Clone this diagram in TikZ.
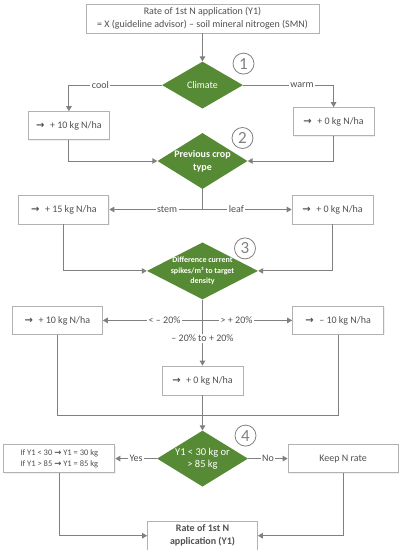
\documentclass[tikz,border=0pt]{standalone}
\usepackage{fontspec}
\setmainfont{Carlito}
\newfontfamily\arrowfont{DejaVu Sans}
\usetikzlibrary{arrows.meta,positioning,shapes.geometric,shadows}

\definecolor{leafgreen}{RGB}{87,138,52}
\definecolor{linegray}{RGB}{128,128,128}
\definecolor{boxgray}{RGB}{178,178,178}
\definecolor{textgray}{RGB}{80,80,80}

\newcommand{\adds}{{\arrowfont\bfseries →}\hspace{0.55em}}

\begin{document}
\begin{tikzpicture}[
      font=\fontsize{10}{13}\selectfont,
      text=textgray,
      box/.style={draw=boxgray, line width=0.8pt, fill=white, align=center, minimum height=28pt, inner sep=2pt,
        drop shadow={opacity=0.12, shadow xshift=1pt, shadow yshift=-1pt}},
      decision/.style={diamond, fill=leafgreen, inner sep=0pt},
      dtext/.style={text=white, align=center, font=\fontsize{10}{13}\selectfont},
      stepnum/.style={circle, draw=linegray, line width=0.8pt, minimum size=21pt, inner sep=0pt, text=linegray, font=\fontsize{17}{17}\selectfont},
      lbl/.style={fill=white, inner sep=1.5pt, text=textgray},
      arrow/.style={-{Triangle[width=5.5pt,length=5pt]}, draw=linegray, line width=1pt},
      link/.style={draw=linegray, line width=1pt}
    ]
      \useasboundingbox (-202.5pt,18.5pt) rectangle (199.5pt,-531.5pt);

      \node[box, minimum width=233pt, minimum height=29pt] (rate) at (0,0) {Rate of 1st N application (Y1)\\= X (guideline advisor) – soil mineral nitrogen (SMN)};
      \node[decision, minimum width=81pt, minimum height=47pt, below=28pt of rate, label={[dtext]center:Climate}] (climate) {};
      \node[box, minimum width=81pt, left=52pt of climate, yshift=-40.5pt] (cool) {\adds + 10 kg N/ha};
      \node[box, minimum width=81pt, right=49.5pt of climate, yshift=-36.5pt] (warm) {\adds + 0 kg N/ha};
      \node[decision, minimum width=90pt, minimum height=56pt, below=24pt of climate,
        label={[dtext, font=\fontsize{10}{13}\selectfont\bfseries]center:{Previous crop\\type}}] (crop) {};
      \node[box, minimum width=90pt, minimum height=29pt, left=48pt of crop, yshift=-48.5pt] (stem) {\adds + 15 kg N/ha};
      \node[box, minimum width=81pt, minimum height=29pt, right=44pt of crop, yshift=-48.5pt] (leaf) {\adds + 0 kg N/ha};
      \node[decision, minimum width=111pt, minimum height=57pt, below=53pt of crop,
        label={[dtext, font=\fontsize{8}{10.5}\selectfont\bfseries]center:{Difference current\\spikes/m² to target\\density}}] (density) {};
      \node[box, minimum width=90pt, left=44pt of density, yshift=-49.5pt] (low) {\adds + 10 kg N/ha};
      \node[box, minimum width=91pt, right=34pt of density, yshift=-49.5pt] (high) {\adds – 10 kg N/ha};
      \node[box, minimum width=81pt, minimum height=29pt, below=66pt of density] (same) {\adds + 0 kg N/ha};
      \node[decision, minimum width=91pt, minimum height=56pt, below=35pt of same,
        label={[dtext, font=\fontsize{10.5}{11.5}\selectfont]center:{Y1 < 30 kg or\\> 85 kg}}] (limit) {};
      \node[box, minimum width=111pt, left=41.5pt of limit, font=\fontsize{8.5}{10.5}\selectfont] (yes) {If Y1 < 30 {\arrowfont\bfseries →} Y1 = 30 kg\\If Y1 > 85 {\arrowfont\bfseries →} Y1 = 85 kg};
      \node[box, minimum width=110pt, right=39.5pt of limit] (keep) {Keep N rate};
      \node[box, minimum width=110pt, minimum height=29pt, below=34pt of limit, font=\fontsize{10}{13}\selectfont\bfseries] (final) {Rate of 1st N\\application (Y1)};

      % step numbers
      \node[stepnum] (n1) at ([shift={(41pt,21.5pt)}]climate.center) {1};
      \node[stepnum] (n2) at ([shift={(40pt,23pt)}]crop.center) {2};
      \node[stepnum] (n3) at ([shift={(42.5pt,22.5pt)}]density.center) {3};
      \node[stepnum] (n4) at ([shift={(43pt,23pt)}]limit.center) {4};

      \draw[arrow] (rate) -- (climate);
      \draw[arrow] (climate.west) -| node[lbl, pos=0.33]{cool} (cool.north);
      \draw[arrow] (climate.east) -| node[lbl, pos=0.325]{warm} (warm.north);
      \draw[arrow] (cool.south) |- (crop.west);
      \draw[arrow] (warm.south) |- (crop.east);
      \draw[arrow] (crop.south) |- node[lbl, pos=0.69]{stem} (stem.east);
      \draw[arrow] (crop.south) |- node[lbl, pos=0.69]{leaf} (leaf.west);
      \draw[arrow] (stem.south) |- (density.west);
      \draw[arrow] (leaf.south) |- (density.east);
      \draw[arrow] (density.south) |- node[lbl, pos=0.69]{< – 20\%} (low.east);
      \draw[arrow] (density.south) |- node[lbl, pos=0.69]{> + 20\%} (high.west);
      \draw[arrow] (density.south) -- node[lbl, pos=0.59]{– 20\% to + 20\%} (same.north);
      \coordinate[below=20pt of same] (join);
      \draw[link] (low.south) |- (join) -| (high.south);
      \draw[arrow] (same.south) -- (limit.north);
      \draw[arrow] (limit.west) -- node[lbl]{Yes} (yes.east);
      \draw[arrow] (limit.east) -- node[lbl]{No} (keep.west);
      \draw[arrow] (yes.south) |- (final.west);
      \draw[arrow] (keep.south) |- (final.east);
    \end{tikzpicture}
\end{document}
